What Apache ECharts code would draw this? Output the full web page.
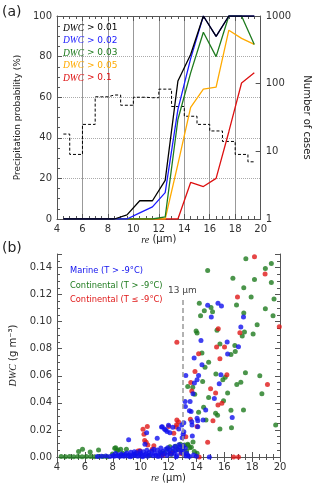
<!DOCTYPE html>
<html>
<head>
<meta charset="utf-8">
<script src="https://cdn.jsdelivr.net/npm/echarts@6/dist/echarts.min.js"></script>
<style>
html, body { margin: 0; padding: 0; background: #fff; }
#main { width: 320px; height: 490px; }
</style>
</head>
<body>
<div id="main"></div>
<script>
// (a) bin centres, re (um)
var reCenters = [4.5, 5.5, 6.5, 7.5, 8.5, 9.5, 10.5, 11.5, 12.5, 13.5, 14.5, 15.5, 16.5, 17.5, 18.5, 19.5];
var dwcNames = ['DWC > 0.01', 'DWC > 0.02', 'DWC > 0.03', 'DWC > 0.05', 'DWC > 0.1'];
var dwcColors = ['#000000', '#1a1aff', '#1e7b1e', '#ffaa00', '#dd1111'];
// precipitation probability (%)
var prob001 = [0, 0, 0, 0, 0, 2, 9, 9, 19, 68, 81, 100, 90, 100, 100, 100];
var prob002 = [0, 0, 0, 0, 0, 0, 3, 6, 13, 54, 79, 100, 90, 100, 100, 100];
var prob003 = [0, 0, 0, 0, 0, 0, 0, 0, 1, 49, 72, 92, 80, 100, 100, 86];
var prob005 = [0, 0, 0, 0, 0, 0, 0, 0, 0, 27, 55, 64, 65, 93, 89, 86];
var prob01  = [0, 0, 0, 0, 0, 0, 0, 0, 0, 0, 18, 16, 20, 43, 67, 72];
// number of cases (right log axis)
var caseCounts = [18, 9, 25, 64, 68, 48, 63, 62, 83, 46, 33, 25, 20, 14, 9, 7];

// (b) scatter, [re, DWC]
var marineNames = ['Marine (T > -9°C)', 'Continental (T > -9°C)', 'Continental (T ≤ -9°C)'];
var marinePts = [
  [14.81,0.1121],[15.55,0.1136],[15.8,0.1116],[15.07,0.1035],[17.38,0.1035],[17.19,0.0961],
  [14.33,0.0861],[16.21,0.085],[17.02,0.0815],[16.24,0.0761],[13.84,0.0731],[14.4,0.0681],
  [13.24,0.0602],[14.16,0.0602],[15.76,0.0607],[14.05,0.057],[13.86,0.0546],[15.64,0.0541],
  [13.76,0.0467],[15.29,0.0432],[13.19,0.041],[13.55,0.041],[13.5,0.0341],[14.05,0.0287],
  [14.48,0.0274],[16.57,0.0291],[13.67,0.0261],[14.1,0.0224],[13.71,0.0156],[13.1,0.0254],
  [11.55,0.0224],[11.79,0.02],[11.19,0.0139],[12.43,0.0131],[13.05,0.0168],[13.1,0.0187],
  [9.14,0.0128],[10.43,0.018],[10.31,0.0094],[11.5,0.0222],[11.71,0.0207],[11.9,0.0188],
  [12.0,0.0235],[12.31,0.022],[12.74,0.0207],[12.95,0.0237],[12.98,0.0143],[13.21,0.0373],
  [13.62,0.0336],[13.69,0.0237],[14.1,0.0267],[14.67,0.0348],[14.93,0.0],[12.1,0.018],
  [6.9,0.0003],[7.2,0.0005],[7.5,0.0008],[7.8,0.0004],[8.0,0.0012],[8.1,0.0006],[8.2,0.0025],
  [8.3,0.0009],[8.4,0.0015],[8.5,0.0004],[8.6,0.0022],[8.7,0.0011],[8.8,0.0006],[8.9,0.0018],
  [9.0,0.0029],[9.1,0.0008],[9.2,0.0014],[9.3,0.0035],[9.4,0.0007],[9.5,0.0021],[9.6,0.0012],
  [9.7,0.0031],[9.8,0.0005],[9.9,0.0017],[10.0,0.0026],[10.1,0.0009],[10.2,0.0038],[10.3,0.0014],
  [10.4,0.0022],[10.5,0.0006],[10.6,0.0033],[10.7,0.0016],[10.8,0.0045],[10.9,0.0009],[11.0,0.0027],
  [11.1,0.0013],[11.2,0.0052],[11.3,0.0019],[11.4,0.0035],[11.5,0.0008],[11.6,0.0041],[11.7,0.0024],
  [11.8,0.0058],[11.9,0.0012],[12.0,0.0036],[12.1,0.0048],[12.2,0.0021],[12.3,0.0063],[12.4,0.0029],
  [12.5,0.0044],[12.6,0.0011],[12.7,0.0055],[12.8,0.0072],[12.9,0.0033],[13.0,0.0048],[13.1,0.0019],
  [13.2,0.0065],[13.3,0.0028],[13.4,0.0012],[13.5,0.0004],[12.45,0.0078],[11.95,0.0069],[12.75,0.0091],
  [13.05,0.0083],[11.45,0.0066],[10.95,0.0058],[10.45,0.0049],[9.95,0.0042],[9.55,0.0038],[12.55,0.0002],
  [11.25,0.0003],[10.15,0.0002],[9.25,0.0001],[13.25,0.0007],[13.8,0.0015],[14.0,0.0005]
];
var contWarmPts = [
  [17.55,0.1464],[19.38,0.143],[18.95,0.1393],[14.81,0.1378],[16.62,0.1321],[18.17,0.1311],
  [19.38,0.1289],[17.4,0.125],[17.93,0.1183],[19.57,0.1168],[14.21,0.1136],[15.05,0.1104],
  [16.88,0.1124],[18.95,0.1096],[14.57,0.1081],[15.16,0.1074],[17.4,0.1064],[14.3,0.1044],
  [19.5,0.1044],[18.36,0.0978],[15.48,0.0936],[13.98,0.0931],[14.05,0.0916],[17.45,0.0924],
  [17.29,0.0894],[18.07,0.0909],[15.69,0.0835],[16.76,0.0824],[16.48,0.0758],[16.79,0.078],
  [14.4,0.0768],[14.88,0.0701],[14.62,0.0664],[15.4,0.0613],[16.07,0.059],[17.52,0.0622],
  [18.55,0.06],[14.45,0.0558],[15.9,0.057],[16.9,0.0536],[17.19,0.0553],[13.38,0.0521],
  [13.74,0.0516],[13.88,0.0464],[16.24,0.0472],[14.88,0.0439],[15.95,0.0415],[14.16,0.0331],
  [14.52,0.0368],[16.48,0.0346],[17.38,0.0348],[15.38,0.0324],[15.52,0.0309],[16.52,0.0217],
  [15.69,0.0207],[19.69,0.0237],[18.7,0.0467],[14.69,0.0274],
  [4.3,0.0003],[4.6,0.0002],[4.9,0.0004],[5.2,0.0002],[5.5,0.0003],[5.8,0.0002],[6.1,0.0004],
  [6.4,0.0003],[6.7,0.0002],[7.0,0.0004],[7.3,0.0003],[7.6,0.0002],[5.55,0.004],[5.83,0.0057],
  [6.38,0.0037],[6.98,0.0052],[7.98,0.0022],[8.14,0.0064],[8.21,0.0069],[8.29,0.0047],[8.38,0.0052],
  [8.57,0.0057],[8.71,0.0027],[8.98,0.0057],[9.6,0.0018],[10.6,0.0012],[11.5,0.0031],[11.9,0.006],
  [12.1,0.0075],[12.3,0.004],[12.5,0.008],[12.65,0.0055],[12.85,0.0095],[13.0,0.0065],[13.15,0.0088],
  [13.3,0.0045],[13.38,0.0094],[13.52,0.0069],[13.64,0.0072],[13.76,0.0111],[13.41,0.0087],
  [13.85,0.004],[14.05,0.0028],[12.2,0.002],[11.7,0.003]
];
var contColdPts = [
  [18.17,0.1479],[18.93,0.1353],[16.95,0.1183],[15.57,0.0948],[17.12,0.0919],[12.6,0.0847],
  [15.45,0.0813],[16.02,0.0813],[15.69,0.0726],[14.16,0.0763],[13.9,0.0632],[16.19,0.0607],
  [19.1,0.0536],[13.6,0.055],[13.67,0.0487],[15.02,0.0504],[15.38,0.0472],[15.55,0.0385],
  [15.83,0.0398],[15.19,0.0267],[13.57,0.0279],[19.95,0.0963],
  [9.81,0.0045],[9.95,0.0047],[10.17,0.0205],[10.48,0.0225],[10.24,0.0168],[10.29,0.0121],
  [10.4,0.0109],[10.52,0.0089],[10.83,0.0057],[10.95,0.0084],[12.02,0.0225],[12.38,0.0176],
  [12.6,0.0274],[12.72,0.0258],[12.58,0.0238],[12.55,0.0222],[13.24,0.015],[14.05,0.0225],
  [14.81,0.0109],[12.2,0.003],[12.9,0.0025],[14.2,0.0],[16.67,0.0],[17.02,0.0],[11.6,0.0015]
];
var dwcLineTop = 0.118;

var myChart = echarts.init(document.getElementById('main'));

var baseFont = 'DejaVu Sans';
var italicRich = {
  i: { fontFamily: 'Liberation Serif', fontStyle: 'italic', fontSize: 10 }
};

function zip (xs, ys) {
  return xs.map(function (x, i) { return [x, ys[i]]; });
}

// axis helpers (IDL style box, ticks inside)
function boxAxis (extra) {
  var ax = {
    axisLine: { show: true, lineStyle: { color: '#555', width: 1 } },
    axisTick: { show: true, inside: true, length: 5, lineStyle: { color: '#555' } },
    minorTick: { show: true, splitNumber: 4, length: 3, lineStyle: { color: '#555' } },
    axisLabel: { color: '#333', fontFamily: baseFont, fontSize: 10, margin: 5 },
    splitLine: { show: false }
  };
  for (var k in extra) ax[k] = extra[k];
  return ax;
}

// draw red first, black last (black on top, like the original)
var probArrays = [prob001, prob002, prob003, prob005, prob01];
var lineSeries = [];
for (var s = 4; s >= 0; s--) {
  lineSeries.push({
    name: dwcNames[s],
    type: 'line',
    xAxisIndex: 0,
    yAxisIndex: 0,
    data: zip(reCenters, probArrays[s]),
    symbol: 'none',
    lineStyle: { color: dwcColors[s], width: 1.3 },
    z: 3
  });
}

var titles = [
  { text: '(a)', left: 2, top: 5, padding: 0, textStyle: { fontFamily: baseFont, fontSize: 14, fontWeight: 'normal', color: '#222' } },
  { text: '(b)', left: 2, top: 241, padding: 0, textStyle: { fontFamily: baseFont, fontSize: 14, fontWeight: 'normal', color: '#222' } }
];
dwcNames.forEach(function (n, i) {
  titles.push({
    text: n.replace('DWC', '{i|DWC}'),
    left: 63, top: 23 + i * 12.5, padding: 0,
    textStyle: {
      fontFamily: baseFont, fontSize: 9, fontWeight: 'normal', color: dwcColors[i],
      rich: { i: { fontFamily: 'Liberation Serif', fontStyle: 'italic', fontSize: 9.5, color: dwcColors[i] } }
    }
  });
});
var scatterColors = ['#1010ee', '#1e7b1e', '#e01818'];
marineNames.forEach(function (n, i) {
  titles.push({
    text: n, left: 70, top: 267 + i * 14.5, padding: 0,
    textStyle: { fontFamily: baseFont, fontSize: 8.3, fontWeight: 'normal', color: scatterColors[i] }
  });
});

var option = {
  animation: false,
  backgroundColor: '#fff',
  title: titles,
  grid: [
    { left: 57, top: 16, width: 223, height: 203 },
    { left: 57, top: 254, width: 223, height: 203 }
  ],
  xAxis: [
    boxAxis({ type: 'value', gridIndex: 0, min: 4, max: 20, interval: 2,
      splitLine: { show: true, lineStyle: { color: '#999', width: 1 } },
      name: '{i|re} (μm)', nameLocation: 'middle', nameGap: 14,
      nameTextStyle: { fontFamily: baseFont, fontSize: 10, color: '#222', rich: italicRich } }),
    boxAxis({ type: 'value', gridIndex: 0, position: 'top', min: 4, max: 20, interval: 2,
      axisLabel: { show: false } }),
    boxAxis({ type: 'value', gridIndex: 1, min: 4, max: 20, interval: 2,
      name: '{i|re} (μm)', nameLocation: 'middle', nameGap: 16,
      nameTextStyle: { fontFamily: baseFont, fontSize: 10, color: '#222', rich: italicRich } }),
    boxAxis({ type: 'value', gridIndex: 1, position: 'top', min: 4, max: 20, interval: 2,
      axisLabel: { show: false } })
  ],
  yAxis: [
    boxAxis({ type: 'value', gridIndex: 0, min: 0, max: 100, interval: 20,
      splitLine: { show: true, lineStyle: { color: '#aaa', width: 1, type: 'dotted' } },
      name: 'Precipitation probability (%)', nameLocation: 'middle', nameGap: 23,
      nameTextStyle: { fontFamily: baseFont, fontSize: 9, color: '#222' } }),
    boxAxis({ type: 'log', logBase: 10, gridIndex: 0, position: 'right', min: 1, max: 1000,
      minorTick: { show: false },
      axisLabel: { color: '#333', fontFamily: baseFont, fontSize: 10, margin: 5,
        formatter: function (v) { return String(Math.round(v)); } },
      name: 'Number of cases', nameLocation: 'middle', nameGap: 27, nameRotate: -90,
      nameTextStyle: { fontFamily: baseFont, fontSize: 10, color: '#222' } }),
    boxAxis({ type: 'value', gridIndex: 1, min: 0, max: 0.15, interval: 0.02,
      axisLabel: { color: '#333', fontFamily: baseFont, fontSize: 10, margin: 5,
        formatter: function (v) {
          var k = v / 0.02;
          return Math.abs(k - Math.round(k)) < 1e-6 ? v.toFixed(2) : '';
        } },
      name: '{i|DWC} (g m⁻³)', nameLocation: 'middle', nameGap: 32,
      nameTextStyle: { fontFamily: baseFont, fontSize: 10, color: '#222', rich: italicRich } }),
    boxAxis({ type: 'value', gridIndex: 1, position: 'right', min: 0, max: 0.15, interval: 0.02,
      axisLabel: { show: false } })
  ],
  series: lineSeries.concat([
    {
      name: 'Number of cases',
      type: 'line',
      xAxisIndex: 0,
      yAxisIndex: 1,
      step: 'middle',
      data: zip(reCenters, caseCounts),
      symbol: 'none',
      lineStyle: { color: '#000', width: 1, type: [3, 2] },
      z: 2
    },
    {
      name: marineNames[1],
      type: 'scatter',
      xAxisIndex: 2,
      yAxisIndex: 2,
      data: contWarmPts,
      symbol: 'circle',
      symbolSize: 5,
      itemStyle: { color: scatterColors[1] },
      markLine: {
        silent: true,
        symbol: 'none',
        lineStyle: { color: '#999', width: 1.5, type: [5, 3] },
        label: { show: true, position: 'end', distance: 2, formatter: '13 μm',
          fontFamily: baseFont, fontSize: 9, color: '#444' },
        data: [[{ coord: [13, 0] }, { coord: [13, dwcLineTop] }]]
      }
    },
    {
      name: marineNames[2],
      type: 'scatter',
      xAxisIndex: 2,
      yAxisIndex: 2,
      data: contColdPts,
      symbol: 'circle',
      symbolSize: 5,
      itemStyle: { color: scatterColors[2] }
    },
    {
      name: marineNames[0],
      type: 'scatter',
      xAxisIndex: 2,
      yAxisIndex: 2,
      data: marinePts,
      symbol: 'circle',
      symbolSize: 5,
      itemStyle: { color: scatterColors[0] }
    }
  ])
};

myChart.setOption(option);
</script>
</body>
</html>
